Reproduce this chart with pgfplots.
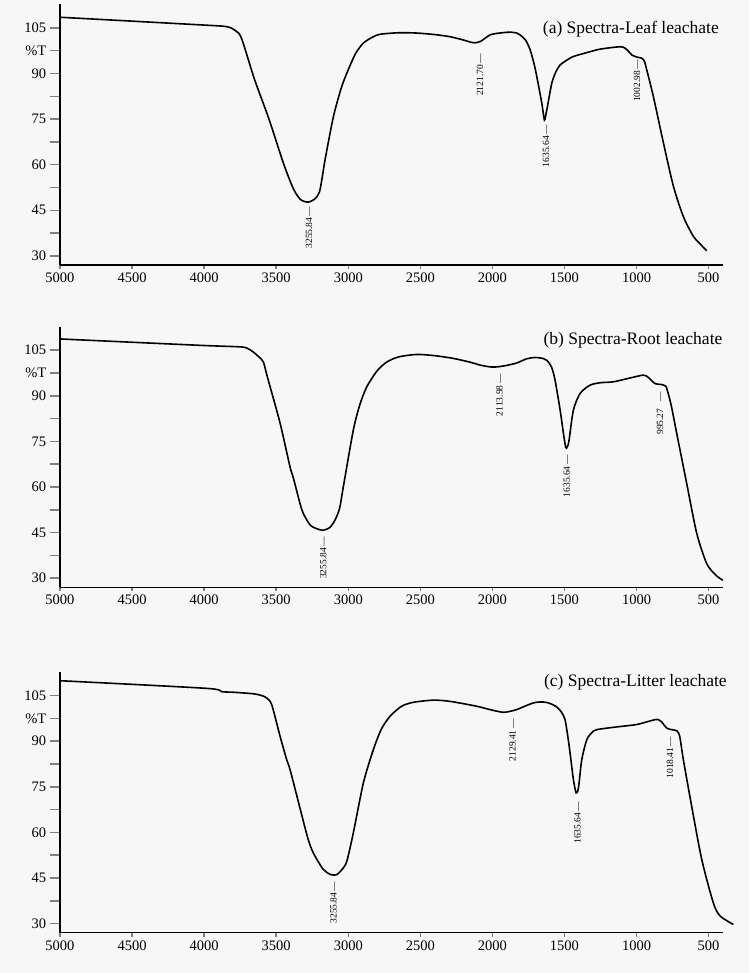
\documentclass[border=0pt]{standalone}
\usepackage{fontspec}
\setmainfont{Liberation Serif}
\usepackage{pgfplots}
\pgfplotsset{compat=1.18}

\definecolor{bg}{RGB}{247,247,247}

\pgfplotsset{
  irpanel/.style={
    scale only axis, width=663pt, height=260.5pt,
    anchor=south west,
    x dir=reverse, xmin=400, xmax=5000, ymin=27, ymax=112.7,
    axis lines*=left, axis line style={line width=1.5pt},
    xtick={500,1000,...,5000},
    ytick={30,37.5,45,52.5,60,67.5,75,82.5,90,97.5,105},
    yticklabels={30,,45,,60,,75,,90,\%T,105},
    tick align=outside,
    ytick style={line width=1.5pt, /pgfplots/major tick length=10pt},
    xtick style={line width=1.5pt, /pgfplots/major tick length=4pt},
    /pgf/number format/assume math mode=true,
    /pgf/number format/set thousands separator={},
    ticklabel style={font=\fontsize{14.5}{16}\selectfont},
    yticklabel style={xshift=-6pt},
    clip=false,
  },
  spec/.style={black, line width=1.6pt, smooth, tension=0.45},
}
\tikzset{
  pk/.style={rotate=90, anchor=east, inner sep=0pt, font=\fontsize{9.5}{10}\selectfont},
  ttl/.style={anchor=east, inner sep=0pt, font=\fontsize{17.5}{19}\selectfont},
}

\begin{document}
\begin{tikzpicture}
\fill[bg] (0,0) rectangle (749pt,973pt);
\path[use as bounding box] (0,0) rectangle (749pt,973pt);

% (a) leaf leachate
\begin{axis}[irpanel, at={(60pt,708pt)}]
\addplot[spec] coordinates {
(5000,108.5)(4029,106.0)(3843,105.4)(3780,104)(3740,101.5)(3650,88)(3550,75)
(3450,60.5)(3380,52)(3330,48.5)(3277,47.7)(3230,48.8)(3200,51)(3180,56)(3161,61.6)
(3103,75.8)(3050,85)(3010,90.1)(2950,96.5)(2895,100)(2830,102)(2779,102.9)
(2650,103.4)(2525,103.3)(2400,102.8)(2294,102.1)(2200,101)(2143,100.2)(2120,100.1)
(2080,100.6)(2016,102.7)(1950,103.3)(1877,103.6)(1830,103.3)(1808,102.7)(1770,101)
(1738,97.8)(1710,93)(1692,89)(1657,80.2)(1639,74.7)(1625,77.5)(1618,79.1)(1588,86.8)
(1560,90.5)(1530,92.8)(1480,94.5)(1438,95.6)(1350,96.8)(1253,98)(1114,98.8)(1079,98.3)
(1050,97)(1033,96.1)(998,95.4)(963,95.0)(945,94)(929,91.2)(883,82.4)(813,67.1)
(744,52.9)(675,42.9)(605,36.4)(550,33.5)(513,31.7)
};
\node[pk] at (axis cs:3272,46.3) {3255.84\,—};
\node[pk] at (axis cs:2085,96.5) {2121.70\,—};
\node[pk] at (axis cs:1627,73.1) {1635.64\,—};
\node[pk] at (axis cs:996,94.5) {1002.98\,—};
\node[ttl] at (axis cs:428,104.6) {(a) Spectra-Leaf leachate};
\end{axis}

% (b) root leachate
\begin{axis}[irpanel, at={(60pt,385.7pt)}]
\addplot[spec] coordinates {
(5000,108.7)(4029,106.6)(3751,106.1)(3700,105.6)(3659,104.4)(3620,102.8)(3589,101.1)
(3560,96)(3473,81)(3404,66.6)(3381,63)(3335,54.6)(3312,51.3)(3260,47.3)(3184,45.8)
(3130,46.6)(3092,49.1)(3060,53)(3034,60.1)(2965,78.7)(2920,87)(2872,92.9)(2800,98.2)
(2733,101.1)(2650,102.8)(2525,103.6)(2400,103.2)(2271,102.3)(2150,101)(2085,100.1)
(2016,99.5)(1970,99.5)(1900,100)(1831,100.8)(1760,102.2)(1704,102.6)(1650,102.3)
(1623,101.7)(1590,99.5)(1565,95.1)(1530,85.3)(1507,77.6)(1491,73)(1480,73.2)(1468,75.4)
(1438,85.3)(1391,90.8)(1322,93.5)(1250,94.3)(1160,94.6)(1050,95.8)(952,96.8)(917,96)
(871,94)(825,93.7)(800,93.2)(790,92.4)(760,87)(721,77.6)(652,61.2)(582,44.7)(513,34.8)
(450,31)(401,29.3)
};
\node[pk] at (axis cs:3173,43.6) {3255.84\,—};
\node[pk] at (axis cs:1951,97.1) {2113.98\,—};
\node[pk] at (axis cs:1484,70.5) {1635.64\,—};
\node[pk] at (axis cs:836,91.3) {995.27\hspace{7pt}—};
\node[ttl] at (axis cs:403,108.3) {(b) Spectra-Root leachate};
\end{axis}

% (c) litter leachate
\begin{axis}[irpanel, at={(60pt,40.3pt)}]
\addplot[spec] coordinates {
(5000,109.9)(3990,107.4)(3880,106.3)(3797,106.1)(3659,105.6)
(3600,105.0)(3566,104.2)(3531,102)(3473,91.6)(3427,83.9)(3404,80.7)(3335,68)(3280,58)
(3242,53.2)(3173,47.8)(3120,46.1)(3080,46.1)(3040,48)(3010,50.5)(2965,59.8)(2895,76.3)
(2826,87.2)(2770,94)(2710,98.2)(2630,101.5)(2548,102.8)(2409,103.5)(2294,103.1)
(2109,101.5)(2000,100.2)(1924,99.5)(1880,99.8)(1831,100.4)(1716,102.6)(1646,102.9)
(1600,102.4)(1554,101.3)(1520,99.5)(1496,97.1)(1478,92)(1461,86.1)(1438,77.4)(1419,73)
(1403,74.6)(1380,83.9)(1345,90.5)(1310,92.8)(1276,93.8)(1137,94.7)(998,95.5)(871,97.1)
(845,97)(825,96.3)(790,94.3)(756,93.8)(720,93.4)(700,91.5)(675,83.9)(617,68.5)(547,51)
(467,36.8)(420,32.5)(328,29.7)
};
\node[pk] at (axis cs:3103,43.9) {3255.84\,—};
\node[pk] at (axis cs:1861,97.3) {2129.41\,—};
\node[pk] at (axis cs:1410,70.2) {1635.64\,—};
\node[pk] at (axis cs:767,91.6) {1018.41\,—};
\node[ttl] at (axis cs:373,109.5) {(c) Spectra-Litter leachate};
\end{axis}
\end{tikzpicture}
\end{document}
